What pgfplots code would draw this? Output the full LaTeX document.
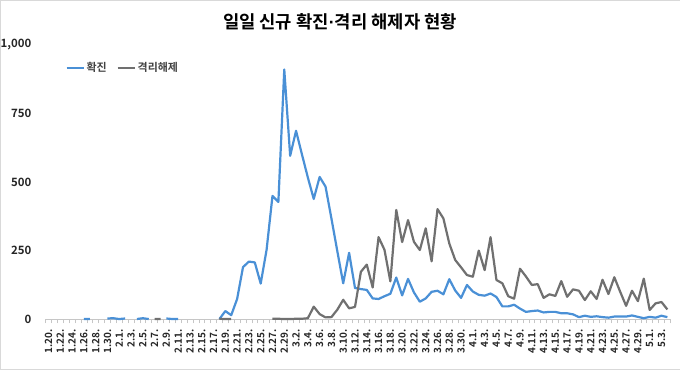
\documentclass[border=0pt]{standalone}
\usepackage{fontspec}
\setmainfont{Noto Sans CJK KR}[BoldFont={Noto Sans CJK KR Bold}]
\newfontfamily\latfont{Liberation Sans}
\usepackage{pgfplots}
\usepackage{pgfplotstable}
\pgfplotsset{compat=1.18}
\definecolor{cblue}{RGB}{74,144,214}
\definecolor{cgray}{RGB}{112,112,112}
\pgfplotstableread{
x b g
0 1 nan
1 nan nan
2 nan nan
3 nan nan
4 1 nan
5 nan nan
6 1 nan
7 1 nan
8 nan nan
9 nan nan
10 3 nan
11 4 nan
12 1 nan
13 3 nan
14 nan nan
15 1 nan
16 4 nan
17 1 nan
18 nan 1
19 nan 1
20 3 nan
21 1 nan
22 1 nan
23 nan nan
24 nan nan
25 nan nan
26 nan nan
27 nan nan
28 nan nan
29 1 2
30 30 1
31 15 1
32 74 nan
33 190 nan
34 210 nan
35 207 nan
36 130 nan
37 253 nan
38 449 2
39 427 2
40 909 1
41 595 1
42 686 2
43 600 2
44 516 4
45 438 46
46 518 19
47 483 7
48 367 8
49 248 35
50 131 71
51 242 40
52 114 45
53 110 173
54 107 199
55 76 116
56 74 299
57 84 253
58 93 138
59 152 398
60 87 281
61 147 361
62 98 282
63 64 252
64 76 331
65 100 211
66 104 401
67 91 367
68 146 276
69 105 216
70 78 189
71 125 161
72 101 155
73 89 250
74 86 179
75 94 299
76 81 143
77 47 131
78 47 84
79 53 75
80 39 184
81 27 156
82 30 125
83 32 128
84 25 78
85 27 91
86 27 85
87 22 139
88 22 82
89 18 109
90 8 104
91 13 70
92 9 102
93 11 74
94 8 144
95 6 92
96 10 153
97 10 100
98 10 49
99 14 104
100 9 66
101 4 148
102 9 34
103 6 58
104 13 63
105 8 36
}\data
\begin{document}
\begin{tikzpicture}
\path[use as bounding box, draw=gray!30] (0,0) rectangle (680bp,369bp);
\node[font=\bfseries\fontsize{17.8}{20}\selectfont] at (340bp,347.5bp) {일일 신규 확진{\latfont\bfseries ·}격리 해제자 현황};
\begin{axis}[
  at={(45.4bp,49.7bp)}, anchor=south west, scale only axis,
  width=625.1bp, height=275bp,
  xmin=-0.5, xmax=105.5, ymin=0, ymax=1000, clip=false,
  separate axis lines,
  axis x line*=bottom, axis y line*=left,
  y axis line style={draw=none},
  x axis line style={draw=gray!45, line width=0.8bp, -},
  major tick length=0pt,
  ytick={0,250,500,750,1000},
  yticklabels={0,250,500,750,{1,000}},
  yticklabel style={font=\bfseries\fontsize{11.5}{13}\selectfont, text=black!85, anchor=east, inner sep=0pt, xshift=-14bp},
  xtick={0,2,...,104},
  xticklabels={1.20.,1.22.,1.24.,1.26.,1.28.,1.30.,2.1.,2.3.,2.5.,2.7.,2.9.,2.11.,2.13.,2.15.,2.17.,2.19.,2.21.,2.23.,2.25.,2.27.,2.29.,3.2.,3.4.,3.6.,3.8.,3.10.,3.12.,3.14.,3.16.,3.18.,3.20.,3.22.,3.24.,3.26.,3.28.,3.30.,4.1.,4.3.,4.5.,4.7.,4.9.,4.11.,4.13.,4.15.,4.17.,4.19.,4.21.,4.23.,4.25.,4.27.,4.29.,5.1.,5.3.},
  xticklabel style={rotate=90, anchor=east, inner sep=0pt, font=\bfseries\fontsize{10}{12}\selectfont, text=black!85},
  xticklabel shift=10bp,
  extra x ticks={-0.5,0.5,...,105.5},
  extra x tick labels={},
  extra x tick style={major tick length=4bp, tick align=outside, tick style={draw=gray!45, line width=0.6bp}},
  legend style={at={(0.027,0.914)}, anchor=west, draw=none, fill=none,
    font=\bfseries\fontsize{11}{13}\selectfont, text=black!75,
    legend columns=2, /tikz/every even column/.append style={column sep=8bp}},
  legend image code/.code={\draw[#1, line width=2bp] (0bp,0bp) -- (17bp,0bp);},
  unbounded coords=jump,
]
\addplot[cblue, line width=2.2bp, line join=round] table[x=x,y=b]{\data};
\addlegendentry{확진}
\addplot[cgray, line width=2.2bp, line join=round] table[x=x,y=g]{\data};
\addlegendentry{격리해제}
\end{axis}
\end{tikzpicture}
\end{document}
